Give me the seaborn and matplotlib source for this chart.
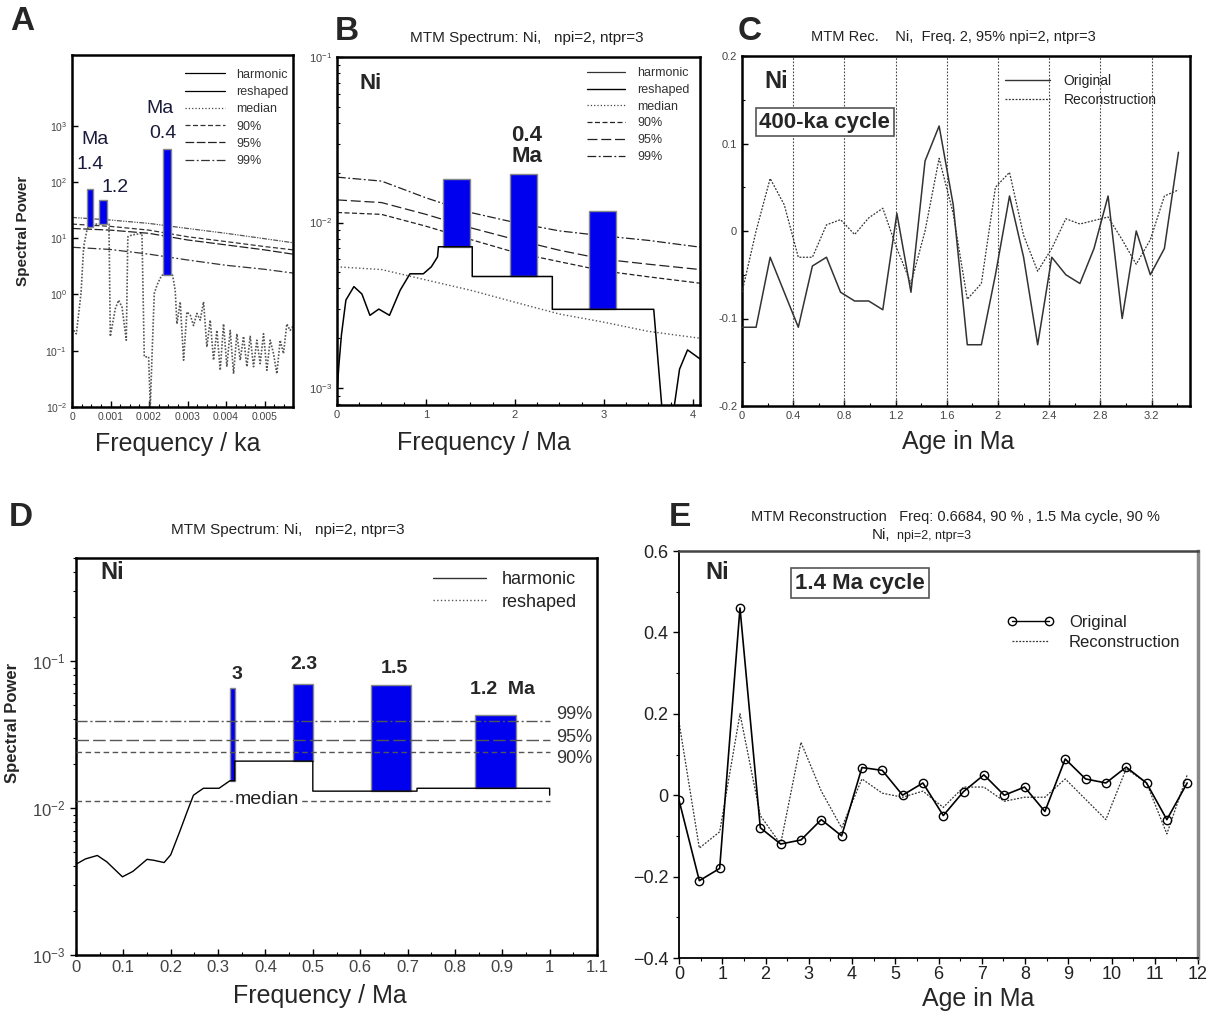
import matplotlib
matplotlib.use("Agg")
import matplotlib.pyplot as plt
import seaborn as sns
from matplotlib.lines import Line2D
from matplotlib.ticker import MultipleLocator, FixedLocator, FuncFormatter, NullFormatter, NullLocator, LogLocator

# ---------------- data ----------------
# Panel A : spectrum vs frequency (1/ka)
a_freq = [0.000043, 0.000112, 0.000173, 0.000234, 0.000303, 0.000389, 0.00043, 0.00056, 0.00072,
          0.00093, 0.00096, 0.000995, 0.001125, 0.001211, 0.001298, 0.00141, 0.00145, 0.001557,
          0.001817, 0.001877, 0.00199, 0.002033, 0.002076, 0.002137, 0.002206, 0.00231, 0.00234,
          0.00260, 0.002612, 0.00268, 0.002725, 0.002811, 0.002898, 0.002984, 0.003071, 0.003157,
          0.003244, 0.00333, 0.003417, 0.003503, 0.00359, 0.003676, 0.003763, 0.003849, 0.003936,
          0.004022, 0.004109, 0.004196, 0.004282, 0.004369, 0.004455, 0.004542, 0.004628, 0.004715,
          0.004801, 0.004888, 0.004974, 0.005061, 0.005147, 0.005234, 0.00532, 0.005407, 0.005493,
          0.00558, 0.005666, 0.005735]
a_power = [0.23, 0.20, 0.46, 1.04, 7.1, 14, 16, 17.8, 17.8,
           17.8, 17.8, 0.18, 0.56, 0.79, 0.60, 0.154, 10.6, 11.4,
           12.2, 0.078, 0.078, 0.01, 0.073, 1.04, 1.46, 2.06, 2.2,
           2.2, 2.2, 1.19, 0.30, 0.74, 0.068, 0.49, 0.43, 0.28,
           0.46, 0.35, 0.74, 0.117, 0.35, 0.068, 0.23, 0.045, 0.30,
           0.052, 0.23, 0.039, 0.20, 0.068, 0.18, 0.052, 0.18, 0.052,
           0.154, 0.059, 0.20, 0.045, 0.154, 0.089, 0.039, 0.154, 0.089,
           0.30, 0.23, 0.27]
a_thr_freq = [0, 0.001, 0.002, 0.003, 0.004, 0.005, 0.00574]
a_median = [23.4, 21.0, 18.3, 14.9, 12.2, 9.8, 8.3]
a_p90 = [17.8, 16.2, 13.9, 10.6, 8.7, 7.1, 6.2]
a_p95 = [14.9, 13.9, 12.2, 9.3, 7.6, 6.2, 5.2]
a_p99 = [6.9, 6.3, 5.2, 4.1, 3.3, 2.8, 2.4]
a_bar_lo = [0.00040, 0.00071, 0.00236]
a_bar_hi = [0.00055, 0.00092, 0.00258]
a_bar_bottom = [16, 17.8, 2.2]
a_bar_top = [74, 48, 380]

# Panel B : spectrum vs frequency (1/Ma)
b_freq = [0, 0.02, 0.05, 0.1, 0.19, 0.28, 0.37, 0.47, 0.59, 0.71, 0.82, 0.97, 1.06, 1.13, 1.14,
          1.52, 1.52, 2.42, 2.42, 3.56, 3.68, 3.74, 3.85, 3.94, 4.08]
b_power = [9.3e-4, 0.00135, 0.0021, 0.0034, 0.0041, 0.0037, 0.00275, 0.0030, 0.00275, 0.0039,
           0.0049, 0.0049, 0.0054, 0.0062, 0.00714, 0.00714, 0.00472, 0.00472, 0.00299, 0.00299,
           5e-4, 5e-4, 0.0013, 0.0017, 0.0015]
b_thr_freq = [0, 0.5, 1, 1.5, 2, 2.5, 3, 3.5, 4.08]
b_median = [0.0054, 0.0052, 0.0045, 0.0039, 0.0033, 0.0028, 0.0025, 0.0022, 0.0020]
b_p90 = [0.0115, 0.0112, 0.0095, 0.0079, 0.0066, 0.0058, 0.0051, 0.0047, 0.0043]
b_p95 = [0.0137, 0.0132, 0.0112, 0.0093, 0.0079, 0.0068, 0.0060, 0.0056, 0.0052]
b_p99 = [0.0188, 0.0178, 0.0141, 0.0115, 0.0100, 0.0089, 0.0083, 0.0078, 0.0071]
b_bar_lo = [1.19, 1.94, 2.83]
b_bar_hi = [1.50, 2.25, 3.14]
b_bar_bottom = [0.00714, 0.00472, 0.00299]
b_bar_top = [0.0182, 0.0197, 0.0117]

# Panel C : 400-ka reconstruction
c_age = [0.00, 0.11, 0.22, 0.33, 0.44, 0.55, 0.66, 0.77, 0.88, 0.99, 1.10, 1.21, 1.32, 1.43,
         1.54, 1.65, 1.76, 1.87, 1.98, 2.09, 2.20, 2.31, 2.42, 2.53, 2.64, 2.75, 2.86, 2.97,
         3.08, 3.19, 3.30, 3.41]
c_orig = [-0.11, -0.11, -0.03, -0.07, -0.11, -0.04, -0.03, -0.07, -0.08, -0.08, -0.09, 0.02,
          -0.07, 0.08, 0.12, 0.03, -0.13, -0.13, -0.05, 0.04, -0.03, -0.13, -0.03, -0.05,
          -0.06, -0.02, 0.04, -0.10, 0.00, -0.05, -0.02, 0.09]
c_rec = [-0.07, 0.00, 0.06, 0.03, -0.03, -0.03, 0.007, 0.013, -0.004, 0.015, 0.026, -0.02,
         -0.06, 0.00, 0.083, 0.02, -0.078, -0.06, 0.05, 0.067, -0.005, -0.046, -0.02, 0.014,
         0.008, 0.012, 0.016, -0.01, -0.038, -0.01, 0.04, 0.047]
c_grid = [0.4, 0.8, 1.2, 1.6, 2.0, 2.4, 2.8, 3.2]

# Panel D : spectrum vs frequency (1/Ma)
d_freq = [0, 0.02, 0.045, 0.065, 0.098, 0.12, 0.15, 0.165, 0.186, 0.20, 0.219, 0.235, 0.248,
          0.269, 0.302, 0.325, 0.335, 0.335, 0.50, 0.50, 0.72, 0.72, 1.0, 1.0]
d_power = [0.00414, 0.0045, 0.00475, 0.0043, 0.0034, 0.0037, 0.00447, 0.0044, 0.00425, 0.0048,
           0.0069, 0.0095, 0.0122, 0.0136, 0.0136, 0.0153, 0.0153, 0.0208, 0.0208, 0.0130,
           0.0130, 0.0136, 0.0136, 0.0122]
d_thr_freq = [0, 1.0]
d_levels = {"median": 0.0112, "90%": 0.024, "95%": 0.029, "99%": 0.0391}
d_bar_lo = [0.326, 0.458, 0.622, 0.843]
d_bar_hi = [0.336, 0.500, 0.708, 0.928]
d_bar_bottom = [0.0153, 0.0208, 0.0130, 0.0136]
d_bar_top = [0.0656, 0.070, 0.068, 0.0428]
d_bar_labels = ["3", "2.3", "1.5", "1.2  Ma"]

# Panel E : 1.4 Ma reconstruction
e_age = [0.00, 0.47, 0.94, 1.41, 1.88, 2.35, 2.82, 3.29, 3.76, 4.23, 4.70, 5.17, 5.64, 6.11,
         6.58, 7.05, 7.52, 7.99, 8.46, 8.93, 9.40, 9.87, 10.34, 10.81, 11.28, 11.75]
e_orig = [-0.012, -0.21, -0.18, 0.46, -0.08, -0.12, -0.11, -0.06, -0.10, 0.068, 0.061, 0.0,
          0.03, -0.05, 0.009, 0.05, 0.0, 0.02, -0.04, 0.089, 0.04, 0.03, 0.069, 0.03, -0.06, 0.03]
e_rec = [0.18, -0.13, -0.09, 0.20, -0.05, -0.12, 0.13, 0.01, -0.08, 0.04, 0.005, -0.005,
         0.01, -0.03, 0.02, 0.02, -0.015, -0.005, -0.005, 0.04, -0.01, -0.06, 0.065, 0.03,
         -0.095, 0.05]

# ---------------- style ----------------
sns.set_theme(style="ticks")
plt.rcParams['font.family'] = ['Liberation Sans', 'DejaVu Sans']
plt.rcParams['axes.linewidth'] = 1.8
BLUE = '#0000ee'

fig = plt.figure(figsize=(12.16, 10.15), dpi=100)
W, H = 1216, 1015


def add_ax(l, t, r, b):
    return fig.add_axes([l / W, 1 - b / H, (r - l) / W, (b - t) / H])


def style_ax(ax, size, direction='in', color='#444444'):
    ax.tick_params(which='both', direction=direction, labelsize=size, colors='black',
                   labelcolor=color, top=False, right=False)
    ax.tick_params(which='major', length=4, width=1)
    ax.tick_params(which='minor', length=2.5, width=0.8)
    for s in ax.spines.values():
        s.set_color('black')


def bars(ax, lo, hi, bottom, top):
    ax.bar(lo, [t - bt for t, bt in zip(top, bottom)], bottom=bottom,
           width=[h - l for l, h in zip(lo, hi)], align='edge', color=BLUE,
           edgecolor='#888888', linewidth=1.0, zorder=3)


def line(ax, x, y, **kw):
    sns.lineplot(x=x, y=y, ax=ax, estimator=None, sort=False, legend=False, **kw)


fmt_g = FuncFormatter(lambda v, p: f"{v:g}")

# ---------------- Panel A ----------------
axA = add_ax(72, 55, 293, 407)
axA.set_yscale('log')
line(axA, a_freq, a_power, color='#555555', linestyle=(0, (1, 1)), linewidth=1.2, zorder=2)
line(axA, a_thr_freq, a_median, color='#555555', linestyle=(0, (4, 1, 1, 1, 1, 1)), linewidth=0.9)
line(axA, a_thr_freq, a_p90, color='#333333', linestyle=(0, (4, 2)), linewidth=0.9)
line(axA, a_thr_freq, a_p95, color='#222222', linestyle=(0, (7, 2)), linewidth=0.9)
line(axA, a_thr_freq, a_p99, color='#333333', linestyle=(0, (7, 2, 1.5, 2)), linewidth=0.9)
bars(axA, a_bar_lo, a_bar_hi, a_bar_bottom, a_bar_top)
axA.set_xlim(0, 0.00574)
axA.set_ylim(1e-2, 1.8e4)
axA.yaxis.set_major_locator(FixedLocator([1e-2, 1e-1, 1, 10, 100, 1000]))
axA.yaxis.set_minor_locator(NullLocator())
axA.xaxis.set_major_locator(MultipleLocator(0.001))
axA.xaxis.set_minor_locator(MultipleLocator(0.00025))
axA.xaxis.set_major_formatter(fmt_g)
style_ax(axA, 7.5)
for txt, x, y in [("Ma", 0.00059, 560), ("1.4", 0.00047, 200), ("1.2", 0.00112, 79),
                  ("Ma", 0.00229, 2040), ("0.4", 0.00236, 730)]:
    axA.text(x, y, txt, ha='center', va='center', fontsize=14, color='#1a1a3a')
handlesA = [Line2D([], [], color='black', lw=0.9),
            Line2D([], [], color='black', lw=0.9),
            Line2D([], [], color='#444444', lw=0.9, ls=':'),
            Line2D([], [], color='#333333', lw=0.9, ls=(0, (4, 2))),
            Line2D([], [], color='#222222', lw=0.9, ls=(0, (7, 2))),
            Line2D([], [], color='#333333', lw=0.9, ls=(0, (7, 2, 1.5, 2)))]
axA.legend(handlesA, ["harmonic", "reshaped", "median", "90%", "95%", "99%"],
           loc='upper left', bbox_to_anchor=(0.49, 0.975), frameon=False, fontsize=9,
           handlelength=3.2, labelspacing=0.42, handletextpad=0.9, borderaxespad=0,
           labelcolor='#333333')
axA.set_xlabel("Frequency / ka", fontsize=18)
axA.xaxis.set_label_coords(0.48, -0.07)
axA.set_ylabel("Spectral Power", fontsize=11, fontweight='bold')
axA.yaxis.set_label_coords(-0.19, 0.5)

# ---------------- Panel B ----------------
axB = add_ax(337, 57, 700, 405)
axB.set_yscale('log')
line(axB, b_thr_freq, b_median, color='#555555', linestyle=':', linewidth=1.0)
line(axB, b_thr_freq, b_p90, color='#222222', linestyle=(0, (4, 2)), linewidth=0.9)
line(axB, b_thr_freq, b_p95, color='#222222', linestyle=(0, (8, 3)), linewidth=0.9)
line(axB, b_thr_freq, b_p99, color='#222222', linestyle=(0, (7, 2, 1.5, 2)), linewidth=0.9)
bars(axB, b_bar_lo, b_bar_hi, b_bar_bottom, b_bar_top)
line(axB, b_freq, b_power, color='black', linewidth=1.1, zorder=4)
axB.set_xlim(0, 4.08)
axB.set_ylim(7.9e-4, 0.1)
axB.xaxis.set_major_locator(MultipleLocator(1))
axB.xaxis.set_minor_locator(MultipleLocator(0.25))
axB.xaxis.set_major_formatter(fmt_g)
axB.yaxis.set_major_locator(LogLocator(base=10))
axB.yaxis.set_minor_locator(LogLocator(base=10, subs=range(2, 10)))
axB.yaxis.set_minor_formatter(NullFormatter())
style_ax(axB, 8)
axB.text(0.063, 0.925, "Ni", transform=axB.transAxes, fontsize=16, fontweight='bold',
         ha='left', va='center')
axB.text(2.13, 0.029, "0.4\nMa", ha='center', va='center', fontsize=16, fontweight='bold',
         linespacing=0.95)
handlesB = [Line2D([], [], color='#333333', lw=0.9),
            Line2D([], [], color='black', lw=1.0),
            Line2D([], [], color='#444444', lw=0.9, ls=':'),
            Line2D([], [], color='#222222', lw=0.9, ls=(0, (4, 2))),
            Line2D([], [], color='#222222', lw=0.9, ls=(0, (8, 3))),
            Line2D([], [], color='#222222', lw=0.9, ls=(0, (7, 2, 1.5, 2)))]
axB.legend(handlesB, ["harmonic", "reshaped", "median", "90%", "95%", "99%"],
           loc='upper left', bbox_to_anchor=(0.675, 0.985), frameon=False, fontsize=9,
           handlelength=3.0, labelspacing=0.38, handletextpad=1.0, borderaxespad=0,
           labelcolor='#333333')
axB.set_xlabel("Frequency / Ma", fontsize=18)
axB.xaxis.set_label_coords(0.405, -0.075)

# ---------------- Panel C ----------------
axC = add_ax(742, 56, 1190, 406)
for g in c_grid:
    axC.axvline(g, color='#444444', linestyle=(0, (1.5, 1.5)), linewidth=0.8, zorder=1)
line(axC, c_age, c_orig, color='#333333', linewidth=1.1, zorder=3)
line(axC, c_age, c_rec, color='#333333', linestyle=(0, (1.5, 1.2)), linewidth=0.9, zorder=3)
axC.set_xlim(0, 3.5)
axC.set_ylim(-0.2, 0.2)
axC.xaxis.set_major_locator(MultipleLocator(0.4))
axC.xaxis.set_minor_locator(MultipleLocator(0.2))
axC.xaxis.set_major_formatter(fmt_g)
axC.yaxis.set_major_locator(MultipleLocator(0.1))
axC.yaxis.set_minor_locator(MultipleLocator(0.05))
axC.yaxis.set_major_formatter(FuncFormatter(lambda v, p: f"{v:g}".replace('\u2212', '-') if abs(v) > 1e-9 else "0"))
style_ax(axC, 8)
axC.text(0.05, 0.926, "Ni", transform=axC.transAxes, fontsize=17, fontweight='bold',
         ha='left', va='center')
axC.text(0.185, 0.811, "400-ka cycle", transform=axC.transAxes, fontsize=16,
         fontweight='bold', ha='center', va='center',
         bbox=dict(boxstyle='square,pad=0.15', fc='white', ec='#555555', lw=1.2))
handlesC = [Line2D([], [], color='#333333', lw=1.0),
            Line2D([], [], color='#333333', lw=0.9, ls=(0, (1.5, 1.2)))]
axC.legend(handlesC, ["Original", "Reconstruction"], loc='upper left',
           bbox_to_anchor=(0.575, 0.965), frameon=False, fontsize=10, handlelength=3.2,
           labelspacing=0.35, handletextpad=1.0, borderaxespad=0, labelcolor='#222222')
axC.set_xlabel("Age in Ma", fontsize=18)
axC.xaxis.set_label_coords(0.482, -0.068)

# ---------------- Panel D ----------------
axD = add_ax(76, 558, 597, 955)
axD.set_yscale('log')
bars(axD, d_bar_lo, d_bar_hi, d_bar_bottom, d_bar_top)
thr_styles = {"median": (0, (4, 2.5)), "90%": (0, (4, 2.5)), "95%": (0, (9, 3)),
              "99%": (0, (8, 2, 1.5, 2))}
for name, lvl in d_levels.items():
    line(axD, d_thr_freq, [lvl, lvl], color='#555555', linestyle=thr_styles[name],
         linewidth=1.0, zorder=4)
line(axD, d_freq, d_power, color='black', linewidth=1.0, zorder=5)
axD.set_xlim(0, 1.1)
axD.set_ylim(1e-3, 0.5)
axD.xaxis.set_major_locator(MultipleLocator(0.1))
axD.xaxis.set_minor_locator(MultipleLocator(0.05))
axD.xaxis.set_major_formatter(fmt_g)
axD.yaxis.set_major_locator(FixedLocator([1e-3, 1e-2, 1e-1]))
axD.yaxis.set_minor_locator(LogLocator(base=10, subs=range(2, 10)))
axD.yaxis.set_minor_formatter(NullFormatter())
style_ax(axD, 12)
axD.tick_params(axis='y', which='both', direction='out')
for txt, x, y in zip(d_bar_labels, [0.339, 0.481, 0.672, 0.901], [0.081, 0.095, 0.088, 0.064]):
    axD.text(x, y, txt, ha='center', va='center', fontsize=14, fontweight='bold')
for txt, y in [("99%", 0.043), ("95%", 0.030), ("90%", 0.0217)]:
    axD.text(1.052, y, txt, ha='center', va='center', fontsize=13, color='#333333')
axD.text(0.402, 0.0114, "median", ha='center', va='center', fontsize=14, color='#222222',
         zorder=6, bbox=dict(boxstyle='square,pad=0.05', fc='white', ec='none'))
axD.text(0.046, 0.963, "Ni", transform=axD.transAxes, fontsize=17, fontweight='bold',
         ha='left', va='center')
handlesD = [Line2D([], [], color='#333333', lw=1.0),
            Line2D([], [], color='#555555', lw=1.0, ls=':')]
axD.legend(handlesD, ["harmonic", "reshaped"], loc='upper left',
           bbox_to_anchor=(0.672, 0.985), frameon=False, fontsize=13, handlelength=2.9,
           labelspacing=0.3, handletextpad=0.9, borderaxespad=0, labelcolor='#222222')
axD.set_xlabel("Frequency / Ma", fontsize=18)
axD.xaxis.set_label_coords(0.468, -0.072)
axD.set_ylabel("Spectral Power", fontsize=12, fontweight='bold')
axD.yaxis.set_label_coords(-0.107, 0.584)

# ---------------- Panel E ----------------
axE = add_ax(679, 551, 1198, 958)
line(axE, e_age, e_rec, color='#333333', linestyle=(0, (1.5, 1.2)), linewidth=0.9, zorder=2)
line(axE, e_age, e_orig, color='black', linewidth=1.2, marker='o', markersize=6,
     markerfacecolor='none', markeredgecolor='black', markeredgewidth=1.0, zorder=3)
axE.set_xlim(0, 12)
axE.set_ylim(-0.4, 0.6)
axE.xaxis.set_major_locator(MultipleLocator(1))
axE.xaxis.set_minor_locator(MultipleLocator(0.5))
axE.yaxis.set_major_locator(MultipleLocator(0.2))
axE.yaxis.set_minor_locator(MultipleLocator(0.1))
axE.yaxis.set_major_formatter(FuncFormatter(lambda v, p: "0" if abs(v) < 1e-9 else f"{v:.1f}".replace('-', '\u2212')))
style_ax(axE, 13, direction='out', color='#222222')
axE.tick_params(axis='x', which='major', pad=2)
axE.spines['left'].set_linewidth(1.3)
axE.spines['bottom'].set_linewidth(1.3)
axE.spines['top'].set_color('#444444')
axE.spines['right'].set_color('#888888')
axE.spines['right'].set_linewidth(2.5)
axE.text(0.05, 0.946, "Ni", transform=axE.transAxes, fontsize=17, fontweight='bold',
         ha='left', va='center')
axE.text(0.349, 0.921, "1.4 Ma cycle", transform=axE.transAxes, fontsize=16,
         fontweight='bold', ha='center', va='center',
         bbox=dict(boxstyle='square,pad=0.2', fc='white', ec='#555555', lw=1.2))
handlesE = [Line2D([], [], color='black', lw=1.0, marker='o', markersize=6,
                   markerfacecolor='none', markevery=[0, 1]),
            Line2D([], [], color='#333333', lw=0.9, ls=(0, (1.5, 1.2)))]
axE.legend(handlesE, ["Original", "Reconstruction"], loc='upper left',
           bbox_to_anchor=(0.62, 0.86), frameon=False, fontsize=12, handlelength=2.8,
           labelspacing=0.3, handletextpad=0.9, borderaxespad=0, labelcolor='#222222',
           numpoints=2)
axE.set_xlabel("Age in Ma", fontsize=18)
axE.xaxis.set_label_coords(0.576, -0.072)

# ---------------- panel letters & titles ----------------
for letter, x, y in [("A", 22, 22), ("B", 347, 32), ("C", 750, 32), ("D", 21, 518), ("E", 680, 518)]:
    fig.text(x / W, 1 - y / H, letter, fontsize=24, fontweight='bold', ha='center', va='center')
fig.text(527 / W, 1 - 38 / H, "MTM Spectrum: Ni,   npi=2, ntpr=3", fontsize=11,
         ha='center', va='center', color='#222222')
fig.text(953 / W, 1 - 37 / H, "MTM Rec.    Ni,  Freq. 2, 95% npi=2, ntpr=3", fontsize=10.5,
         ha='center', va='center', color='#222222')
fig.text(288 / W, 1 - 530 / H, "MTM Spectrum: Ni,   npi=2, ntpr=3", fontsize=11,
         ha='center', va='center', color='#222222')
fig.text(955 / W, 1 - 517 / H, "MTM Reconstruction   Freq: 0.6684, 90 % , 1.5 Ma cycle, 90 %",
         fontsize=10.5, ha='center', va='center', color='#222222')
fig.text(890 / W, 1 - 535 / H, "Ni,", fontsize=11, ha='right', va='center', color='#222222')
fig.text(897 / W, 1 - 536 / H, "npi=2, ntpr=3", fontsize=9, ha='left', va='center',
         color='#222222')

fig.savefig("out.png", dpi=100)
